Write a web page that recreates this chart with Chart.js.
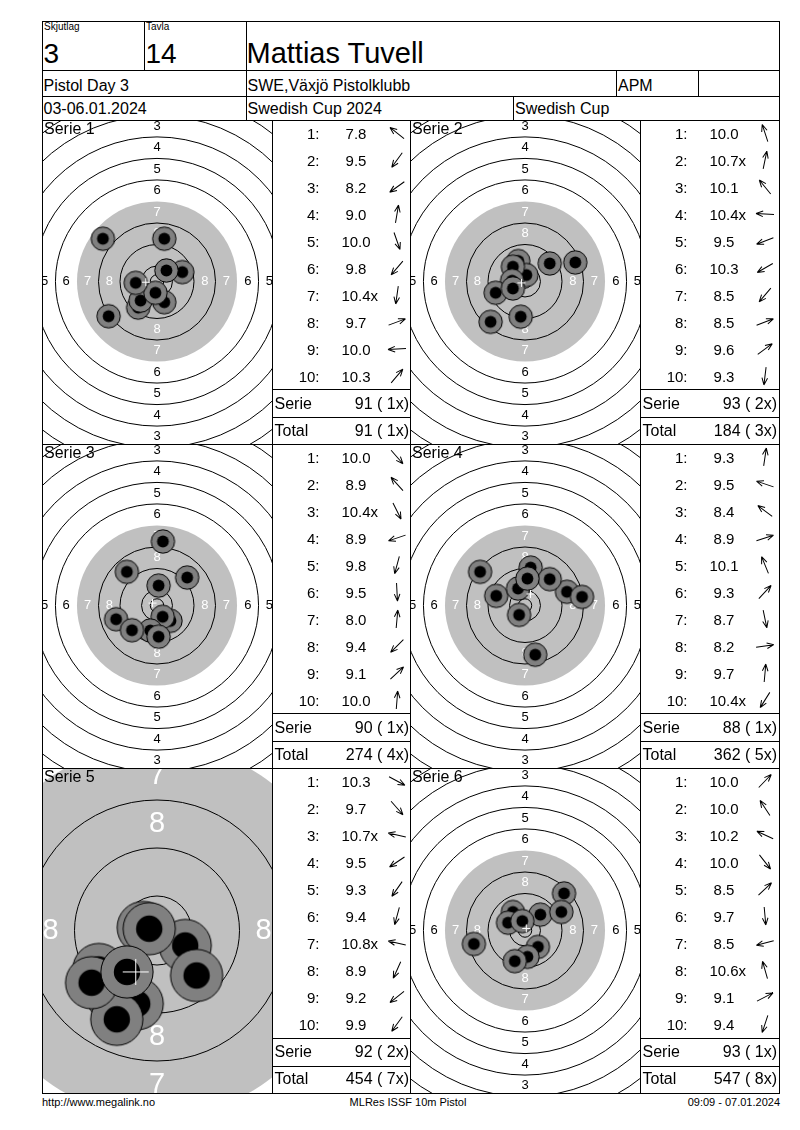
<!DOCTYPE html>
<html><head><meta charset="utf-8">
<script src="https://cdn.jsdelivr.net/npm/chart.js"></script>
<style>
body{margin:0;background:#fff;}
#page{position:relative;width:800px;height:1130px;overflow:hidden;font-family:"Liberation Sans",Arial,sans-serif;color:#000;background:#fff;}
.ln{position:absolute;background:#000;}
.t{position:absolute;white-space:pre;}
canvas{position:absolute;}
svg{position:absolute;overflow:visible;}
</style></head><body><div id="page"></div>
<script>
// ---------------- DATA ----------------
const headerLabels = ["Skjutlag", "Tavla"];
const headerValues = ["3", "14"];
const shooterName = "Mattias Tuvell";
const row2Texts = ["Pistol Day 3", "SWE,Växjö Pistolklubb", "APM", ""];
const row3Texts = ["03-06.01.2024", "Swedish Cup 2024", "Swedish Cup"];
const footerTexts = ["http://www.megalink.no", "MLRes ISSF 10m Pistol", "09:09 - 07.01.2024"];
const serieTitles = ["Serie 1", "Serie 2", "Serie 3", "Serie 4", "Serie 5", "Serie 6"];
const rowLabels = ["Serie", "Total"];

// shot scores ("x" = inner ten) and shot positions in mm from target centre
const s1Scores = ["7.8","9.5","8.2","9.0","10.0","9.8","10.4x","9.7","10.0","10.3"];
const s1X = [-20.1,-7.0,-18.0,2.7,2.7,-6.1,-0.6,9.4,-7.9,3.5];
const s1Y = [15.9,-9.7,-12.9,15.9,-7.7,-7.1,-4.2,3.5,-0.5,4.1];

const s2Scores = ["10.0","10.7x","10.1","10.4x","9.5","10.3","8.5","8.5","9.6","9.3"];
const s2X = [-2.5,0.5,-4.5,-4.8,-10.9,-4.5,-12.8,18.7,9.2,-1.6];
const s2Y = [7.6,2.4,5.5,0.3,-4.2,-2.6,-15.0,7.1,6.7,-13.1];

const s3Scores = ["10.0","8.9","10.4x","8.9","9.8","9.5","8.0","9.4","9.1","10.0"];
const s3X = [5.0,-11.2,2.1,-15.2,-2.5,0.6,2.2,-9.3,11.2,0.6];
const s3Y = [-5.7,12.5,-4.2,-5.1,-9.3,-11.6,23.8,-9.2,10.4,7.4];

const s4Scores = ["9.3","9.5","8.4","8.9","10.1","9.3","8.7","8.2","9.7","10.4x"];
const s4X = [2.1,-10.7,-16.7,15.6,-2.6,9.2,3.8,21.2,0.9,-2.2];
const s4Y = [14.1,3.6,12.5,5.1,6.3,9.8,-18.3,3.2,10.0,-3.5];

const s5Scores = ["10.3","9.7","10.7x","9.5","9.3","9.4","10.8x","8.9","9.2","9.9"];
const s5X = [4.7,6.6,-2.3,-9.7,-7.5,-3.3,-1.3,-6.7,-10.9,-5.0];
const s5Y = [-2.5,-7.5,0.5,-6.5,-10.8,-12.2,0.3,-14.8,-8.7,-6.9];

const s6Scores = ["10.0","10.0","10.2","10.0","8.5","9.7","8.5","10.6x","9.1","9.4"];
const s6X = [5.7,-4.5,-6.3,4.8,14.5,0.9,-19.0,-1.0,13.5,-3.8];
const s6Y = [5.9,6.9,2.9,-6.1,13.8,-9.8,-5.0,3.5,6.9,-11.4];

// ---------------- TARGET GEOMETRY (ISSF 10m pistol, mm) ----------------
const RING_R = [77.75,69.75,61.75,53.75,45.75,37.75,29.75,21.75,13.75,5.75]; // rings 1..10
const INNER_R = 2.5, BLACK_R = 29.75, SHOT_R = 4.35, DOT_R = 2.2;

// ---------------- LAYOUT ----------------
const page = document.getElementById('page');
const FONT = '"Liberation Sans", Arial, sans-serif';
const NS = 'http://www.w3.org/2000/svg';

function line(x, y, w, h) {
  const d = document.createElement('div'); d.className = 'ln';
  Object.assign(d.style, {left: x + 'px', top: y + 'px', width: w + 'px', height: h + 'px'});
  page.appendChild(d);
}
function text(str, x, base, size, align) {
  const d = document.createElement('div'); d.className = 't';
  d.textContent = str;
  d.style.fontSize = size + 'px'; d.style.lineHeight = size + 'px';
  d.style.top = (base - 0.8465 * size) + 'px';
  if (align === 'right') d.style.right = (800 - x) + 'px';
  else if (align === 'center') { d.style.left = x + 'px'; d.style.transform = 'translateX(-50%)'; }
  else d.style.left = x + 'px';
  page.appendChild(d);
  return d;
}
function arrow(cx, cy, ang) {
  const svg = document.createElementNS(NS, 'svg');
  svg.setAttribute('width', 24); svg.setAttribute('height', 24);
  svg.style.left = (cx - 12) + 'px'; svg.style.top = (cy - 12) + 'px';
  const g = document.createElementNS(NS, 'g');
  g.setAttribute('transform', 'rotate(' + (-ang * 180 / Math.PI) + ' 12 12)');
  g.setAttribute('stroke', '#000'); g.setAttribute('stroke-width', '1'); g.setAttribute('fill', 'none');
  const p = document.createElementNS(NS, 'path');
  p.setAttribute('d', 'M3 12 L21 12 M21 12 L14 9.2 M21 12 L14 14.8');
  g.appendChild(p); svg.appendChild(g); page.appendChild(svg);
}

// header
const L = 42, R = 779, TOP = 21, BOT = 1093;
[TOP, 70, 96, 120, 444, 768, BOT].forEach(y => line(L, y, R - L + 1, 1));
line(L, TOP, 1, BOT - TOP + 1); line(R, TOP, 1, BOT - TOP + 1);
line(144, TOP, 1, 70 - TOP); line(246, TOP, 1, 120 - TOP);
line(616, 70, 1, 26); line(698, 70, 1, 26); line(513, 96, 1, 24);
[272, 410, 640].forEach(x => line(x, 120, 1, BOT - 120));

text(headerLabels[0], 44, 30.5, 10);
text(headerLabels[1], 146, 30.5, 10);
text(headerValues[0], 43.5, 63.3, 28);
text(headerValues[1], 145.5, 63.3, 28);
text(shooterName, 246.5, 63.3, 29);
text(row2Texts[0], 43.5, 91.7, 16);
text(row2Texts[1], 247.5, 91.7, 16);
text(row2Texts[2], 618, 91.7, 16);
text(row2Texts[3], 700, 91.7, 16);
text(row3Texts[0], 43.5, 114.3, 16);
text(row3Texts[1], 247.5, 114.3, 16);
text(row3Texts[2], 515, 114.3, 16);

text(footerTexts[0], 42, 1106, 11);
text(footerTexts[1], 408, 1106, 11, 'center');
text(footerTexts[2], R + 1, 1106, 11, 'right');

// ---------------- TARGET CHARTS ----------------
const targetPlugin = {
  id: 'target',
  beforeDatasetsDraw(chart, args, opts) {
    const {ctx, chartArea: a, scales: {x, y}} = chart;
    const cx = x.getPixelForValue(0), cy = y.getPixelForValue(0);
    const k = x.getPixelForValue(1) - cx;
    const blackR = opts.blackR || BLACK_R;
    ctx.save();
    ctx.beginPath(); ctx.rect(a.left, a.top, a.right - a.left, a.bottom - a.top); ctx.clip();
    ctx.fillStyle = '#fff'; ctx.fillRect(a.left, a.top, a.right - a.left, a.bottom - a.top);
    ctx.beginPath(); ctx.arc(cx, cy, blackR * k, 0, 2 * Math.PI); ctx.fillStyle = '#c0c0c0'; ctx.fill();
    ctx.strokeStyle = '#000'; ctx.lineWidth = 1;
    RING_R.concat([INNER_R]).forEach(r => {
      if (r === BLACK_R) return;
      ctx.beginPath(); ctx.arc(cx, cy, r * k, 0, 2 * Math.PI); ctx.stroke();
    });
    ctx.font = (4.83 * k).toFixed(1) + 'px ' + FONT;
    ctx.textAlign = 'center'; ctx.textBaseline = 'middle';
    for (let i = 0; i < 8; i++) {
      const rm = (RING_R[i] - 4) * k;
      ctx.fillStyle = i >= 6 ? '#fff' : '#000';
      const lbl = String(i + 1);
      ctx.fillText(lbl, cx, cy - rm); ctx.fillText(lbl, cx, cy + rm);
      ctx.fillText(lbl, cx - rm, cy); ctx.fillText(lbl, cx + rm, cy);
    }
    ctx.restore();
  }
};

function makeSprite(ppm) {
  const Rp = SHOT_R * ppm, rp = DOT_R * ppm;
  const s = Math.ceil(2 * Rp + 3);
  const c = document.createElement('canvas'); c.width = s; c.height = s;
  const g = c.getContext('2d');
  g.beginPath(); g.arc(s / 2, s / 2, Rp, 0, 2 * Math.PI);
  g.fillStyle = '#808080'; g.fill(); g.lineWidth = 1; g.strokeStyle = '#000'; g.stroke();
  g.beginPath(); g.arc(s / 2, s / 2, rp, 0, 2 * Math.PI); g.fillStyle = '#000'; g.fill();
  return c;
}

function makeTarget(left, top, w, h, cxPage, cyPage, ppm, xs, ys, crossPx, blackR) {
  const cv = document.createElement('canvas');
  cv.width = w; cv.height = h;
  Object.assign(cv.style, {left: left + 'px', top: top + 'px', width: w + 'px', height: h + 'px'});
  page.appendChild(cv);
  const pts = xs.map((v, i) => ({x: v, y: ys[i]}));
  const mean = {x: xs.reduce((a, b) => a + b, 0) / xs.length, y: ys.reduce((a, b) => a + b, 0) / ys.length};
  new Chart(cv, {
    type: 'scatter',
    data: {datasets: [
      {data: [mean], pointStyle: 'cross', pointRadius: crossPx, borderColor: '#fff', backgroundColor: '#fff', borderWidth: 1},
      {data: pts, pointStyle: makeSprite(ppm), pointRadius: SHOT_R * ppm, borderWidth: 0}
    ]},
    options: {
      responsive: false, animation: false, events: [],
      layout: {padding: 0, autoPadding: false},
      plugins: {legend: {display: false}, tooltip: {enabled: false}, target: {blackR: blackR}},
      scales: {
        x: {type: 'linear', display: false, min: (left - cxPage) / ppm, max: (left + w - cxPage) / ppm},
        y: {type: 'linear', display: false, min: (cyPage - (top + h)) / ppm, max: (cyPage - top) / ppm}
      }
    },
    plugins: [targetPlugin]
  });
}

const series = [
  {scores: s1Scores, xs: s1X, ys: s1Y},
  {scores: s2Scores, xs: s2X, ys: s2Y},
  {scores: s3Scores, xs: s3X, ys: s3Y},
  {scores: s4Scores, xs: s4X, ys: s4Y},
  {scores: s5Scores, xs: s5X, ys: s5Y},
  {scores: s6Scores, xs: s6X, ys: s6Y}
];
const rowTop = [120, 444, 768], rowBot = [444, 768, 1093];
const rowCy = [281.5, 605.5, 930.5];
const panelX = [[42, 272], [410, 640]];
const colX = [272, 640];
const sepLines = [[389, 417], [713, 741], [1038, 1066]];
const scalePpm = [2.69, 2.69, 2.69, 2.69, 6.0, 2.69];
const crossSize = [4, 4, 4, 4, 13, 4];
const blackDraw = [29.75, 29.75, 29.75, 29.75, 31.1, 29.75];

let runTotal = 0, runX = 0;
series.forEach((s, i) => {
  const r = Math.floor(i / 2), c = i % 2;
  const x0 = panelX[c][0], x1 = panelX[c][1], y0 = rowTop[r], y1 = rowBot[r];
  makeTarget(x0 + 1, y0 + 1, x1 - x0 - 1, y1 - y0 - 1, (x0 + x1) / 2, rowCy[r], scalePpm[i], s.xs, s.ys, crossSize[i], blackDraw[i]);
  text(serieTitles[i], x0 + 2, y0 + 14.5, 16);

  const Lc = colX[c];
  sepLines[r].forEach(y => line(Lc, y, (c === 0 ? 410 : R) - Lc, 1));
  let sum = 0, xc = 0;
  s.scores.forEach((sc, k) => {
    const base = y0 + 18.3 + 27 * k;
    const inner = sc.endsWith('x');
    const num = inner ? sc.slice(0, -1) : sc;
    sum += Math.floor(parseFloat(num) + 1e-9); if (inner) xc++;
    text((k + 1) + ':', Lc + 47.5, base, 15, 'right');
    const d = text(num, Lc + 84, base, 15, 'center');
    if (inner) {
      const sp = document.createElement('span'); sp.textContent = 'x';
      sp.style.position = 'absolute'; sp.style.left = '100%'; sp.style.top = '0';
      d.appendChild(sp);
    }
    arrow(Lc + 125, base - 5.2, Math.atan2(s.ys[k], s.xs[k]));
  });
  runTotal += sum; runX += xc;
  const fmt = (v, n) => v + ' (' + String(n).padStart(2, ' ') + 'x)';
  text(rowLabels[0], Lc + 2.5, y0 + 290, 16);
  text(fmt(sum, xc), Lc + 137, y0 + 290, 16, 'right');
  text(rowLabels[1], Lc + 2.5, y0 + 316.5, 16);
  text(fmt(runTotal, runX), Lc + 137, y0 + 316.5, 16, 'right');
});
</script>
</body></html>
